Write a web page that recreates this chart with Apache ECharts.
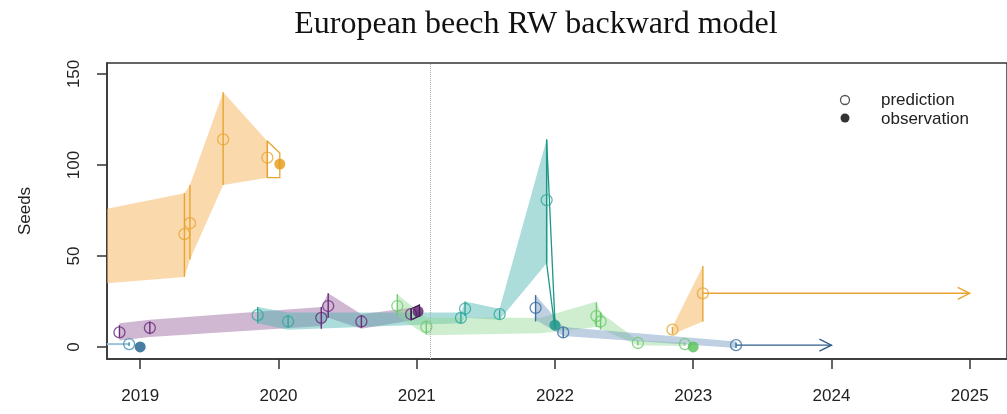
<!DOCTYPE html>
<html>
<head>
<meta charset="utf-8">
<script src="https://cdn.jsdelivr.net/npm/echarts@6/dist/echarts.min.js"></script>
<style>
  html, body { margin: 0; padding: 0; background: #fff; }
  #chart { width: 1007px; height: 414px; }
</style>
</head>
<body>
<div id="chart"></div>
<script>
// axis ticks
const years = [2019, 2020, 2021, 2022, 2023, 2024, 2025];
const seedTicks = [0, 50, 100, 150];
const cutoffYear = 2021.1;

// [year, lower, upper]  band ; [year, prediction, lower, upper]  points
const orange1Band = [[2018.76, 35, 76], [2019.32, 38.5, 84.5], [2019.36, 48, 89], [2019.60, 89, 140], [2019.92, 93, 113]];
const orange1Pred = [[2019.32, 62, 38.5, 84.5], [2019.36, 68, 48, 89], [2019.60, 114, 89, 140], [2019.92, 104, 93, 113]];
const orange1Obs = [[2020.01, 100.5]];
const orange1Link = [[2019.92, 93, 113], [2020.01, 93, 106.5]];

const blueLine = [[2018.76, 1.6], [2018.92, 1.6]];
const bluePred = [[2018.92, 1.6, 0.6, 2.6]];
const blueObs = [[2019.0, 0]];

const purpleBand = [[2018.85, 3.5, 13], [2019.07, 5.5, 15], [2020.31, 11.5, 22], [2020.36, 16, 29.5], [2020.60, 10, 18], [2020.96, 14.5, 21.5]];
const purplePred = [[2018.85, 8, 5, 12], [2019.07, 10.5, 7, 14], [2020.31, 16, 10, 22], [2020.36, 22.5, 16, 29.5], [2020.60, 14, 10.5, 17.5], [2020.96, 18, 15, 21]];
const purpleObs = [[2021.01, 19.5]];
const purpleLink = [[2020.96, 15, 21], [2021.02, 17, 23]];

const tealBand = [[2019.85, 13, 22], [2020.07, 9.5, 19], [2021.32, 13, 19], [2021.35, 16, 25], [2021.60, 15, 21], [2021.94, 46, 114]];
const tealPred = [[2019.85, 17.5, 13, 22], [2020.07, 14, 10.5, 17.5], [2021.32, 16, 13, 19], [2021.35, 21, 17, 25], [2021.60, 18, 15.5, 20.5], [2021.94, 80.7, 46, 114]];
const tealObs = [[2022.0, 12]];
const tealLink = [[2021.94, 46, 114], [2022.0, 10, 14]];

const greenBand = [[2020.86, 17, 29], [2021.07, 6.5, 16], [2021.90, 7.5, 16], [2022.30, 11, 25], [2022.33, 10, 19], [2022.60, 1, 3.5], [2022.94, 0.5, 2.5]];
const greenPred = [[2020.86, 22.5, 17, 29], [2021.07, 11, 7, 14.5], [2022.30, 17, 11, 24.5], [2022.33, 14, 9.5, 19], [2022.60, 2.2, 1, 3.5], [2022.94, 1.6, 0.8, 2.5]];
const greenObs = [[2023.0, 0]];

const steelBand = [[2021.86, 15, 28.5], [2022.06, 6, 11], [2023.31, -0.5, 3]];
const steelPred = [[2021.86, 21.5, 14, 28.5], [2022.06, 8, 5, 11], [2023.31, 1, -0.5, 2.5]];
const steelArrow = [[2023.31, 1, 2024.0]];

const orange2Band = [[2022.85, 7, 11], [2023.07, 14, 44.5]];
const orange2Pred = [[2022.85, 9.5, 7, 11], [2023.07, 29.5, 14, 44.5]];
const orange2Arrow = [[2023.07, 29.5, 2025.0]];

const chart = echarts.init(document.getElementById('chart'), null, { renderer: 'canvas' });

// filled polygon of a credible band
function bandSeries(band, fill, extra) {
  return Object.assign({
    type: 'custom',
    data: band,
    encode: { x: 0, y: [1, 2] },
    z: 1,
    silent: true,
    renderItem: function (params, api) {
      if (params.dataIndex !== 0) return;
      const top = band.map(b => api.coord([b[0], b[2]]));
      const bot = band.slice().reverse().map(b => api.coord([b[0], b[1]]));
      return { type: 'polygon', shape: { points: top.concat(bot) }, style: { fill: fill } };
    }
  }, extra || {});
}

// vertical bar through every prediction
function barSeries(pred, color) {
  return {
    type: 'custom',
    data: pred,
    encode: { x: 0, y: 1 },
    z: 3,
    silent: true,
    renderItem: function (params, api) {
      const lo = api.coord([api.value(0), api.value(2)]);
      const hi = api.coord([api.value(0), api.value(3)]);
      return { type: 'line', shape: { x1: lo[0], y1: lo[1], x2: hi[0], y2: hi[1] }, style: { stroke: color, lineWidth: 1.4 } };
    }
  };
}

// outline from last prediction to the observation
function linkSeries(link, color) {
  return {
    type: 'custom',
    data: link,
    encode: { x: 0, y: [1, 2] },
    z: 3,
    silent: true,
    renderItem: function (params, api) {
      if (params.dataIndex !== 0) return;
      const pts = [
        api.coord([link[0][0], link[0][2]]), api.coord([link[1][0], link[1][2]]),
        api.coord([link[1][0], link[1][1]]), api.coord([link[0][0], link[0][1]])
      ];
      return { type: 'polygon', shape: { points: pts }, style: { fill: 'none', stroke: color, lineWidth: 1.3 } };
    }
  };
}

function arrowSeries(arrow, color) {
  return {
    type: 'custom',
    data: arrow,
    encode: { x: [0, 2], y: 1 },
    z: 3,
    silent: true,
    renderItem: function (params, api) {
      const a = api.coord([api.value(0), api.value(1)]);
      const b = api.coord([api.value(2), api.value(1)]);
      return {
        type: 'group',
        children: [
          { type: 'line', shape: { x1: a[0], y1: a[1], x2: b[0], y2: b[1] }, style: { stroke: color, lineWidth: 1.4 } },
          { type: 'polyline', shape: { points: [[b[0] - 12, b[1] - 6], b, [b[0] - 12, b[1] + 6]] }, style: { stroke: color, fill: 'none', lineWidth: 1.4 } }
        ]
      };
    }
  };
}

function predSeries(pred, color) {
  return {
    type: 'scatter',
    data: pred.map(p => [p[0], p[1]]),
    symbol: 'circle',
    symbolSize: 11,
    z: 4,
    itemStyle: { color: 'rgba(0,0,0,0)', borderColor: color, borderWidth: 1.3 }
  };
}

function obsSeries(obs, color) {
  return {
    type: 'scatter',
    data: obs,
    symbol: 'circle',
    symbolSize: 11,
    z: 5,
    itemStyle: { color: color }
  };
}

const c = {
  orange: '#E8A430', orangeObs: '#E69A12', orangeBand: 'rgba(246,186,105,0.55)',
  purple: '#6A2C7C', purpleBand: 'rgba(150,95,155,0.45)',
  teal: '#2FA89C', tealBand: 'rgba(70,180,172,0.45)',
  green: '#6CCB6C', greenBand: 'rgba(140,215,140,0.42)',
  steel: '#3A6EA2', steelBand: 'rgba(110,150,190,0.45)',
  blue: '#3A8CB8', blueObs: '#1B5E8C', blueLine: '#9CC4DA'
};

const series = [
  bandSeries(orange1Band, c.orangeBand, {
    markLine: {
      silent: true, symbol: 'none', label: { show: false },
      lineStyle: { type: 'dotted', color: '#aaa', width: 1 },
      data: [{ xAxis: cutoffYear }]
    }
  }),
  bandSeries(purpleBand, c.purpleBand),
  bandSeries(tealBand, c.tealBand),
  bandSeries(greenBand, c.greenBand),
  bandSeries(steelBand, c.steelBand),
  bandSeries(orange2Band, c.orangeBand),
  { type: 'line', data: blueLine, symbol: 'none', z: 2, lineStyle: { color: c.blueLine, width: 2 } },
  barSeries(orange1Pred, c.orange), linkSeries(orange1Link, c.orange),
  barSeries(bluePred, c.blue),
  barSeries(purplePred, c.purple), linkSeries(purpleLink, '#2A1C48'),
  barSeries(tealPred, c.teal), linkSeries(tealLink, '#1E9688'),
  barSeries(greenPred, c.green),
  barSeries(steelPred, c.steel), arrowSeries(steelArrow, '#2E5F8C'),
  barSeries(orange2Pred, c.orange), arrowSeries(orange2Arrow, c.orange),
  predSeries(orange1Pred, c.orange), obsSeries(orange1Obs, c.orangeObs),
  predSeries(bluePred, c.blue), obsSeries(blueObs, c.blueObs),
  predSeries(purplePred, c.purple), obsSeries(purpleObs, '#5A1A6A'),
  predSeries(tealPred, c.teal), obsSeries(tealObs, '#1E9688'),
  predSeries(greenPred, c.green), obsSeries(greenObs, '#55C055'),
  predSeries(steelPred, c.steel),
  predSeries(orange2Pred, c.orange)
];

const axisFont = { fontFamily: 'Liberation Sans', fontSize: 17, color: '#222' };

chart.setOption({
  animation: false,
  backgroundColor: '#fff',
  title: {
    text: 'European beech RW backward model',
    left: 531,
    top: 4,
    textAlign: 'center',
    textStyle: { fontFamily: 'Liberation Serif', fontSize: 32, fontWeight: 'normal', color: '#111' }
  },
  grid: { left: 107, right: -5, top: 63, bottom: 55, show: true, borderColor: '#333', borderWidth: 1.5 },
  xAxis: {
    type: 'value',
    min: 2018.76,
    max: 2025.27,
    splitLine: { show: false },
    axisLine: { show: true, onZero: false, lineStyle: { color: '#333', width: 1.5 } },
    axisTick: { show: true, length: 10, customValues: years, lineStyle: { color: '#333', width: 1.5 } },
    axisLabel: Object.assign({ margin: 29, customValues: years, formatter: v => String(Math.round(v)) }, axisFont)
  },
  yAxis: {
    type: 'value',
    min: -6.6,
    max: 156,
    name: 'Seeds',
    nameLocation: 'middle',
    nameGap: 73,
    nameRotate: 90,
    nameTextStyle: axisFont,
    splitLine: { show: false },
    axisLine: { show: true, onZero: false, lineStyle: { color: '#333', width: 1.5 } },
    axisTick: { show: true, length: 10, customValues: seedTicks, lineStyle: { color: '#333', width: 1.5 } },
    axisLabel: Object.assign({ margin: 24, rotate: 90, customValues: seedTicks }, axisFont)
  },
  graphic: [
    { type: 'circle', shape: { cx: 845, cy: 100, r: 4.5 }, style: { fill: 'none', stroke: '#555', lineWidth: 1.3 }, z: 10 },
    { type: 'circle', shape: { cx: 845, cy: 118, r: 4.5 }, style: { fill: '#333' }, z: 10 },
    { type: 'text', x: 881, y: 100, style: { text: 'prediction', fontFamily: 'Liberation Sans', fontSize: 17, fill: '#222', textVerticalAlign: 'middle' }, z: 10 },
    { type: 'text', x: 881, y: 119, style: { text: 'observation', fontFamily: 'Liberation Sans', fontSize: 17, fill: '#222', textVerticalAlign: 'middle' }, z: 10 }
  ],
  series: series
});
</script>
</body>
</html>
